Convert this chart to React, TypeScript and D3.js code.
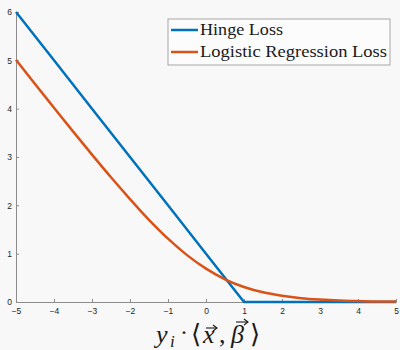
import { useEffect, useRef } from "react";
import * as d3 from "d3";

// values
const hingeX = [-5, -4, -3, -2, -1, 0, 1, 2, 3, 4, 5];
const hingeY = [6, 5, 4, 3, 2, 1, 0, 0, 0, 0, 0];

const logX = [-5, -4.5, -4, -3.5, -3, -2.5, -2, -1.5, -1, -0.5, 0, 0.5, 1, 1.5, 2, 2.5, 3, 3.5, 4, 4.5, 5];
const logY = [5.01, 4.51, 4.02, 3.53, 3.05, 2.58, 2.13, 1.70, 1.31, 0.97, 0.69, 0.47, 0.31, 0.2, 0.13, 0.08, 0.05, 0.03, 0.02, 0.01, 0.01];

const xTicks = [-5, -4, -3, -2, -1, 0, 1, 2, 3, 4, 5];
const yTicks = [0, 1, 2, 3, 4, 5, 6];

const seriesNames = ["Hinge Loss", "Logistic Regression Loss"];
const seriesColors = ["#0072BD", "#D95319"];

const W = 400;
const H = 350;
const SERIF = "'Liberation Serif', 'DejaVu Serif', 'Times New Roman', serif";

const App = () => {
  const ref = useRef<SVGSVGElement>(null);

  useEffect(() => {
    const svg = d3.select(ref.current);
    svg.selectAll("*").remove();

    svg.append("rect").attr("width", W).attr("height", H).attr("fill", "#f8f8f8");

    const x = d3.scaleLinear().domain([-5, 5]).range([16, 396]);
    const y = d3.scaleLinear().domain([0, 6]).range([302, 12]);

    // axes (ticks point inward, like matlab)
    const xAxis = svg.append("g")
      .attr("transform", `translate(0,${y(0)})`)
      .call(d3.axisBottom(x).tickValues(xTicks).tickSize(-3).tickPadding(6).tickFormat(d3.format("d")));
    const yAxis = svg.append("g")
      .attr("transform", `translate(${x(-5)},0)`)
      .call(d3.axisLeft(y).tickValues(yTicks).tickSize(-3).tickPadding(4).tickFormat(d3.format("d")));

    [xAxis, yAxis].forEach(g => {
      g.select(".domain").attr("stroke", "#8c8c8c").attr("stroke-width", 1);
      g.selectAll(".tick line").attr("stroke", "#8c8c8c");
      g.selectAll(".tick text")
        .attr("fill", "#262626")
        .style("font-family", "'Liberation Sans', Arial, sans-serif")
        .style("font-size", "8.5px");
    });

    const line = d3.line<[number, number]>()
      .x(d => x(d[0]))
      .y(d => y(d[1]));

    const hinge = hingeX.map((v, i) => [v, hingeY[i]] as [number, number]);
    const logistic = logX.map((v, i) => [v, logY[i]] as [number, number]);

    svg.append("path")
      .datum(hinge)
      .attr("d", line)
      .attr("fill", "none")
      .attr("stroke", seriesColors[0])
      .attr("stroke-width", 2.5);

    svg.append("path")
      .datum(logistic)
      .attr("d", line.curve(d3.curveMonotoneX))
      .attr("fill", "none")
      .attr("stroke", seriesColors[1])
      .attr("stroke-width", 2.5);

    // legend
    const lg = svg.append("g");
    lg.append("rect")
      .attr("x", 168).attr("y", 19).attr("width", 222).attr("height", 46)
      .attr("fill", "#fcfcfc").attr("stroke", "#a6a6a6");
    seriesNames.forEach((name, i) => {
      const cy = 30 + i * 22;
      lg.append("line")
        .attr("x1", 171).attr("x2", 198).attr("y1", cy).attr("y2", cy)
        .attr("stroke", seriesColors[i]).attr("stroke-width", 2.5);
      lg.append("text")
        .attr("x", 200).attr("y", cy + 5)
        .attr("textLength", i === 0 ? 83 : 187)
        .attr("lengthAdjust", "spacingAndGlyphs")
        .attr("font-family", SERIF)
        .attr("font-size", 17)
        .attr("fill", "#1a1a1a")
        .text(name);
    });

    // x label: y_i · <x, beta> with vector arrows
    const lab = svg.append("g")
      .attr("font-family", SERIF)
      .attr("fill", "#1a1a1a");
    const base = 343;
    const put = (txt: string, px: number, size: number, italic: boolean, dy = 0) =>
      lab.append("text")
        .attr("x", px).attr("y", base + dy)
        .attr("font-size", size)
        .attr("font-style", italic ? "italic" : "normal")
        .text(txt);
    put("y", 156, 26, true);
    put("i", 170, 17, true, 4);
    put("·", 180, 24, false, -3);
    put("⟨", 191, 26, false);
    put("x", 203, 26, true);
    put(",", 219, 26, false);
    put("β", 231, 26, true);
    put("⟩", 250, 26, false);

    const arrow = (x0: number, x1: number, yy: number) => {
      lab.append("line").attr("x1", x0).attr("x2", x1).attr("y1", yy).attr("y2", yy)
        .attr("stroke", "#1a1a1a").attr("stroke-width", 1.1);
      lab.append("path")
        .attr("d", `M${x1 - 4},${yy - 3} L${x1},${yy} L${x1 - 4},${yy + 3}`)
        .attr("fill", "none").attr("stroke", "#1a1a1a").attr("stroke-width", 1.1);
    };
    arrow(206, 217, 328);
    arrow(236, 248, 322);
  }, []);

  return (
    <svg ref={ref} width={W} height={H} style={{ position: "absolute", left: 0, top: 0 }} />
  );
};

export default App;
